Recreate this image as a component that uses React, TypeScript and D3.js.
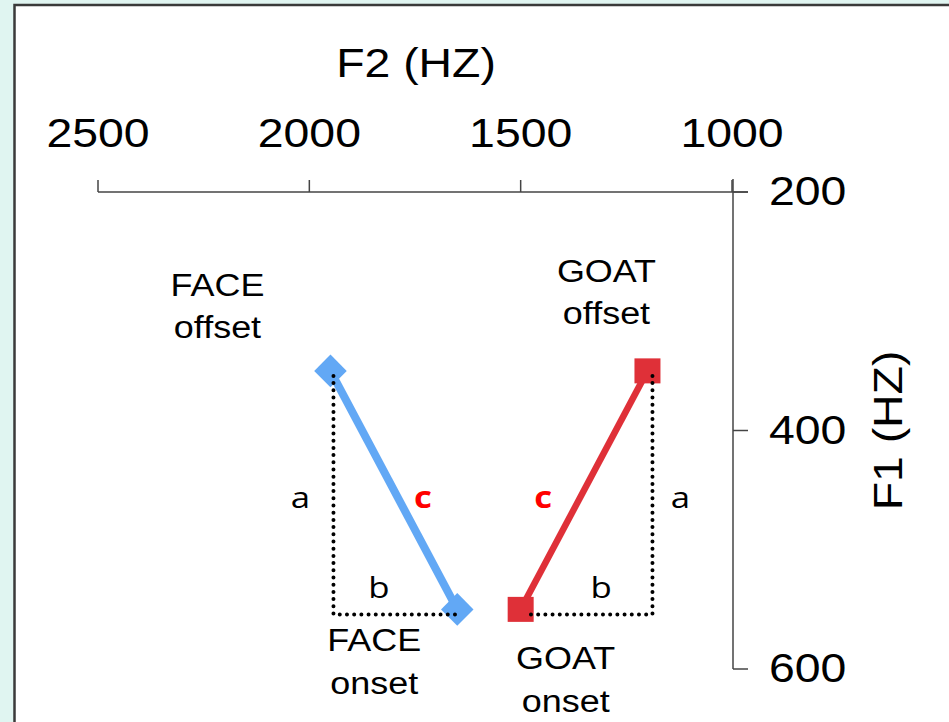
import React from 'react';
import * as d3 from 'd3';

// formant data (Hz)
const vowels = ['FACE', 'GOAT'];
const onsetF2 = [1650, 1500];
const onsetF1 = [550, 550];
const offsetF2 = [1950, 1200];
const offsetF1 = [350, 350];
const f2Ticks = [2500, 2000, 1500, 1000];
const f1Ticks = [200, 400, 600];

const W = 949;
const H = 722;
const FONT = '"Liberation Sans", Arial, sans-serif';
const SX = 1.16; // source text is a little wide

const Txt: React.FC<{ x: number; y: number; size: number; anchor?: string; fill?: string; weight?: string; family?: string; children: React.ReactNode }> = ({ x, y, size, anchor = 'middle', fill = '#000', weight = 'normal', family = FONT, children }) => (
  <text transform={`translate(${x},${y}) scale(${SX},1)`} fontSize={size} textAnchor={anchor} fill={fill} fontWeight={weight} fontFamily={family}>
    {children}
  </text>
);

export default function App() {
  const x = d3.scaleLinear().domain([2500, 1000]).range([98, 732]);
  const y = d3.scaleLinear().domain([200, 600]).range([192, 669]);
  const axisX = x(1000) + 1;
  const axisY = y(200);

  const colors = ['#62a8f5', '#df3038'];
  const widths = [8, 6.5];
  const line = d3.line<[number, number]>().x(d => x(d[0])).y(d => y(d[1]));

  // label offsets relative to the marker
  const offLabel = [{ dx: -113, dy: -75 }, { dx: -41, dy: -89 }];
  const onLabel = [{ dx: -83, dy: 42 }, { dx: 45, dy: 60 }];
  const letterFont = '"Open Sans", sans-serif';

  return (
    <div style={{ position: 'absolute', left: 0, top: 0 }}>
      <svg width={W} height={H} style={{ display: 'block' }}>
        <rect x={0} y={0} width={W} height={H} fill="#e0f5f1" />
        <rect x={14.5} y={5} width={W + 20} height={H + 20} fill="#fff" stroke="#3a3a3a" strokeWidth={2.5} />

        {/* F2 axis (top) */}
        <line x1={x(2500)} x2={axisX + 15} y1={axisY} y2={axisY} stroke="#444" strokeWidth={1.5} />
        {f2Ticks.map(t => (
          <g key={t}>
            <line x1={x(t)} x2={x(t)} y1={axisY} y2={axisY - 12} stroke="#444" strokeWidth={1.5} />
            <Txt x={x(t)} y={147} size={40}>{t}</Txt>
          </g>
        ))}
        <Txt x={416} y={77} size={40}>F2 (HZ)</Txt>

        {/* F1 axis (right) */}
        <line x1={axisX} x2={axisX} y1={axisY - 13} y2={y(600)} stroke="#444" strokeWidth={1.5} />
        {f1Ticks.map(t => (
          <g key={t}>
            <line x1={axisX} x2={axisX + 15} y1={y(t)} y2={y(t)} stroke="#444" strokeWidth={1.5} />
            <Txt x={769} y={y(t) + 13} size={40} anchor="start">{t}</Txt>
          </g>
        ))}
        <text transform={`translate(902,${y(400)}) rotate(-90) scale(${SX},1)`} fontSize={40} textAnchor="middle" fontFamily={FONT}>F1 (HZ)</text>

        {/* trajectories */}
        {vowels.map((v, i) => (
          <path key={v} d={line([[onsetF2[i], onsetF1[i]], [offsetF2[i], offsetF1[i]]]) || ''} stroke={colors[i]} strokeWidth={widths[i]} fill="none" />
        ))}

        {/* FACE diamonds */}
        {[[onsetF2[0], onsetF1[0]], [offsetF2[0], offsetF1[0]]].map((p, j) => (
          <rect key={'d' + j} x={-11.5} y={-11.5} width={23} height={23} fill={colors[0]}
            transform={`translate(${x(p[0])},${y(p[1])}) rotate(45)`} />
        ))}
        {/* GOAT squares */}
        {[[onsetF2[1], onsetF1[1]], [offsetF2[1], offsetF1[1]]].map((p, j) => (
          <rect key={'s' + j} x={x(p[0]) - 13} y={y(p[1]) - 12.5} width={26} height={25} fill={colors[1]} />
        ))}

        {/* dotted right-angle legs */}
        {vowels.map((v, i) => (
          <path key={'leg' + v}
            d={line([[offsetF2[i], offsetF1[i]], [offsetF2[i], onsetF1[i]], [onsetF2[i], onsetF1[i]]]) || ''}
            transform={`translate(${i === 0 ? 3 : 5},5)`}
            fill="none" stroke="#000" strokeWidth={4} strokeLinecap="round" strokeDasharray="0,7.2" />
        ))}

        {/* a, b, c labels */}
        {vowels.map((v, i) => {
          const xa = x(offsetF2[i]);
          const ya = (y(offsetF1[i]) + y(onsetF1[i])) / 2;
          const xb = (x(offsetF2[i]) + x(onsetF2[i])) / 2;
          const xc = (x(offsetF2[i]) + x(onsetF2[i])) / 2;
          return (
            <g key={'abc' + v}>
              <Txt x={xa + (i === 0 ? -30 : 33)} y={ya + 18} size={30} family={letterFont}>a</Txt>
              <Txt x={xb + (i === 0 ? -15 : 17)} y={y(onsetF1[i]) - 11} size={30} family={letterFont}>b</Txt>
              <Txt x={xc + (i === 0 ? 29 : -41)} y={ya + 18} size={30} weight="bold" fill="#f00" family={letterFont}>c</Txt>
            </g>
          );
        })}

        {/* point labels */}
        {vowels.map((v, i) => (
          <g key={'lab' + v}>
            <Txt x={x(offsetF2[i]) + offLabel[i].dx} y={y(offsetF1[i]) + offLabel[i].dy} size={31}>{v}</Txt>
            <Txt x={x(offsetF2[i]) + offLabel[i].dx} y={y(offsetF1[i]) + offLabel[i].dy + 42} size={31}>offset</Txt>
            <Txt x={x(onsetF2[i]) + onLabel[i].dx} y={y(onsetF1[i]) + onLabel[i].dy} size={31}>{v}</Txt>
            <Txt x={x(onsetF2[i]) + onLabel[i].dx} y={y(onsetF1[i]) + onLabel[i].dy + 43} size={31}>onset</Txt>
          </g>
        ))}
      </svg>
    </div>
  );
}
